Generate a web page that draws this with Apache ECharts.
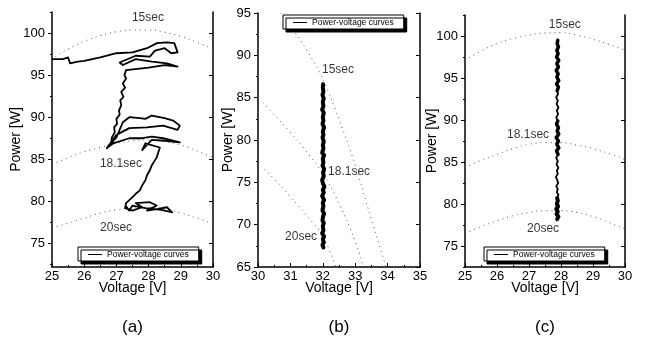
<!DOCTYPE html>
<html>
<head>
<meta charset="utf-8">
<script src="https://cdn.jsdelivr.net/npm/echarts@6/dist/echarts.min.js"></script>
<style>
  html, body { margin: 0; padding: 0; background: #fff; }
  #chart { width: 646px; height: 345px; }
</style>
</head>
<body>
<div id="chart"></div>
<script>
// ---- data ----
const powerTicksA = [75, 80, 85, 90, 95, 100];
const powerTicksB = [65, 70, 75, 80, 85, 90, 95];
const minorTicksA = [72.5, 75, 77.5, 80, 82.5, 85, 87.5, 90, 92.5, 95, 97.5, 100, 102.5];
const minorTicksB = [65, 67.5, 70, 72.5, 75, 77.5, 80, 82.5, 85, 87.5, 90, 92.5, 95];

// (a) measured trajectory
const trackA = [
  [25.0, 96.9], [25.34, 96.9], [25.5, 97.1], [25.56, 96.4], [25.62, 96.3], [25.8, 96.6],
  [26.0, 96.7], [26.5, 97.1], [27.0, 97.6], [27.5, 97.7], [27.95, 98.2], [28.26, 98.8],
  [28.57, 98.9], [28.8, 98.8], [28.9, 97.7], [28.7, 97.6], [28.5, 98.2], [28.2, 97.9],
  [28.04, 97.2], [27.6, 97.3], [27.1, 96.5], [27.2, 96.2], [27.6, 96.9], [28.1, 96.6],
  [28.57, 96.4], [28.9, 96.0], [28.5, 96.2], [28.0, 95.9], [27.3, 95.6], [27.25, 95.0],
  [27.3, 94.6], [27.2, 94.0], [27.27, 93.5], [27.15, 93.0], [27.22, 92.4], [27.12, 92.0],
  [27.15, 91.4], [27.08, 90.8], [27.1, 90.3], [27.0, 89.8], [27.02, 89.2], [26.93, 88.8],
  [26.95, 88.2], [26.86, 87.6], [26.84, 87.0], [26.75, 86.6], [26.7, 86.3], [27.0, 87.6],
  [27.2, 89.4], [27.4, 90.0], [27.73, 89.9], [27.9, 89.8], [28.1, 90.2], [28.5, 89.9],
  [28.76, 89.6], [28.97, 89.0], [28.9, 88.5], [28.45, 89.0], [27.95, 88.8], [27.4, 88.7],
  [27.0, 87.9], [26.7, 86.3], [26.9, 86.9], [27.4, 87.5], [27.8, 87.5], [28.1, 87.7],
  [28.45, 87.5], [28.97, 87.0], [28.5, 87.2], [28.1, 87.3], [27.95, 86.7], [27.8, 86.1],
  [27.9, 86.9], [28.35, 86.4], [28.25, 85.2], [28.2, 84.9], [28.1, 84.3], [28.04, 83.7],
  [27.95, 83.1], [27.9, 82.5], [27.8, 81.9], [27.73, 81.3], [27.6, 80.9], [27.5, 80.5],
  [27.3, 79.8], [27.27, 79.2], [27.5, 78.9], [27.8, 79.3], [27.6, 79.8], [28.04, 79.9],
  [28.25, 79.5], [27.95, 78.9], [28.3, 79.1], [28.57, 79.3], [28.73, 78.7], [28.4, 79.0],
  [27.9, 79.2], [27.5, 79.5], [27.4, 78.9], [27.3, 79.4]
];
const curveA15 = [[25.1, 97.2], [25.5, 98.1], [26, 99.0], [26.5, 99.7], [27, 100.15], [27.5, 100.35], [28, 100.35], [28.5, 100.1], [29, 99.6], [29.5, 98.9], [30, 98.1]];
const curveA18 = [[25, 84.4], [25.5, 85.2], [26, 85.9], [26.5, 86.4], [27, 86.9], [27.5, 87.2], [28, 87.3], [28.5, 87.1], [29, 86.7], [29.5, 86.0], [30, 85.2]];
const curveA20 = [[25, 76.8], [25.5, 77.4], [26, 78.0], [26.5, 78.6], [27, 79.0], [27.5, 79.2], [28, 79.3], [28.5, 79.1], [29, 78.6], [29.5, 78.0], [30, 77.3]];
const labelsA = [[27.98, 101.8, '15sec'], [27.14, 84.5, '18.1sec'], [26.99, 76.9, '20sec']];

// (b) measured trajectory
const trackB = [
  [32.02, 67.3], [31.99, 67.6], [32.03, 67.9], [32.0, 68.3], [32.04, 68.6], [31.98, 69.0],
  [32.02, 69.3], [32.0, 69.8], [32.03, 70.2], [31.99, 70.5], [32.01, 71.0], [32.04, 71.3],
  [31.99, 71.7], [32.02, 72.2], [32.0, 72.6], [32.04, 72.9], [31.98, 73.4], [32.03, 73.8],
  [32.0, 74.1], [32.05, 74.5], [32.0, 74.9], [31.98, 75.3], [32.03, 75.7], [32.01, 76.1],
  [32.04, 76.6], [31.99, 77.0], [32.02, 77.3], [32.0, 77.8], [32.04, 78.2], [31.98, 78.5],
  [32.02, 79.0], [32.0, 79.4], [32.03, 79.8], [31.99, 80.3], [32.02, 80.6], [32.0, 81.0],
  [32.04, 81.5], [31.99, 81.9], [32.02, 82.3], [32.0, 82.7], [32.03, 83.2], [31.98, 83.6],
  [32.02, 84.0], [32.0, 84.5], [32.03, 84.9], [31.99, 85.3], [32.02, 85.7], [32.0, 86.2],
  [32.01, 86.6]
];
const curveB15 = [[30.7, 95], [31.2, 92.4], [31.6, 90.0], [32, 87.2], [32.5, 82.4], [33, 77.0], [33.5, 70.6], [33.95, 65]];
const curveB18 = [[30.15, 84.4], [30.5, 83.0], [31, 80.9], [31.5, 78.6], [32, 76.0], [32.5, 72.5], [33, 68.0], [33.25, 65]];
const curveB20 = [[30.2, 76.5], [30.5, 75.4], [31, 73.3], [31.5, 71.1], [32, 68.6], [32.4, 65]];
const labelsB = [[32.47, 88.35, '15sec'], [32.81, 76.25, '18.1sec'], [31.33, 68.55, '20sec']];

// (c) measured trajectory, split where the trace gets thicker / thinner
const trackC1 = [[27.88, 78.2], [27.92, 78.5], [27.86, 78.8], [27.9, 79.1], [27.85, 79.4], [27.91, 79.7], [27.87, 80.0], [27.9, 80.4], [27.88, 80.7]];
const trackC2 = [[27.88, 80.7], [27.92, 81.1], [27.87, 81.4], [27.9, 81.8], [27.85, 82.1], [27.91, 82.5], [27.88, 82.9], [27.84, 83.2], [27.9, 83.6], [27.87, 84.0], [27.92, 84.3], [27.86, 84.7], [27.9, 85.1], [27.85, 85.5], [27.91, 85.9]];
const trackC3 = [[27.91, 85.9], [27.86, 86.3], [27.93, 86.7], [27.87, 87.1], [27.92, 87.5], [27.85, 87.9], [27.93, 88.3], [27.88, 88.7], [27.92, 89.1], [27.86, 89.5], [27.9, 89.9]];
const trackC4 = [[27.9, 89.9], [27.85, 90.3], [27.91, 90.7], [27.87, 91.1], [27.92, 91.5], [27.86, 91.9], [27.9, 92.3], [27.85, 92.7], [27.91, 93.1], [27.88, 93.5]];
const trackC5 = [[27.88, 93.5], [27.92, 93.9], [27.86, 94.3], [27.93, 94.7], [27.87, 95.1], [27.91, 95.5], [27.85, 95.9], [27.92, 96.3], [27.87, 96.7], [27.93, 97.1], [27.86, 97.5], [27.91, 97.9], [27.87, 98.3], [27.92, 98.7], [27.88, 99.1], [27.9, 99.5]];
const curveC15 = [[25, 97.1], [25.5, 98.2], [26, 99.1], [26.5, 99.7], [27, 100.1], [27.5, 100.35], [28, 100.4], [28.5, 100.1], [29, 99.6], [29.5, 99.0], [30, 98.3]];
const curveC18 = [[25, 84.3], [25.5, 85.2], [26, 85.9], [26.5, 86.6], [27, 87.1], [27.5, 87.3], [28, 87.3], [28.5, 87.0], [29, 86.6], [29.5, 86.0], [30, 85.3]];
const curveC20 = [[25, 76.5], [25.5, 77.3], [26, 78.0], [26.5, 78.6], [27, 79.0], [27.5, 79.2], [28, 79.2], [28.5, 79.0], [29, 78.5], [29.5, 77.8], [30, 77.0]];
const labelsC = [[28.12, 101.3, '15sec'], [26.97, 88.2, '18.1sec'], [27.44, 77.1, '20sec']];

const panelNames = ['(a)', '(b)', '(c)'];
const legendName = 'Power-voltage curves';

// ---- styling ----
const FONT = 'Liberation Sans, Arial, sans-serif';
const grids = [
  {left: 52, top: 12, width: 161, height: 255},
  {left: 258, top: 13, width: 162, height: 254},
  {left: 465, top: 15, width: 160, height: 252},
];

function xAxis(gi, min, max) {
  return {
    gridIndex: gi, type: 'value', min: min, max: max, interval: 1,
    axisLine: {onZero: false, lineStyle: {color: '#000', width: 1.5}},
    axisTick: {inside: true, length: 4, lineStyle: {color: '#000'}},
    minorTick: {show: true, splitNumber: 2, length: 2, lineStyle: {color: '#000'}},
    splitLine: {show: false},
    axisLabel: {color: '#000', fontSize: 13, fontFamily: FONT, margin: 3},
    name: 'Voltage [V]', nameLocation: 'middle', nameGap: 14, nameMoveOverlap: false,
    nameTextStyle: {color: '#000', fontSize: 14, fontFamily: FONT},
  };
}

function yAxes(gi, min, max, major, minor, gap) {
  return [
    {
      gridIndex: gi, type: 'value', position: 'left', min: min, max: max,
      axisLine: {onZero: false, lineStyle: {color: '#000', width: 1.5}},
      axisTick: {customValues: major, length: 4, lineStyle: {color: '#000'}},
      splitLine: {show: false},
      axisLabel: {customValues: major, color: '#000', fontSize: 13, fontFamily: FONT, margin: 7},
      name: 'Power [W]', nameLocation: 'middle', nameGap: gap, nameMoveOverlap: false,
      nameTextStyle: {color: '#000', fontSize: 14, fontFamily: FONT},
    },
    {
      gridIndex: gi, type: 'value', position: 'left', min: min, max: max,
      axisLine: {show: false},
      axisTick: {customValues: minor, length: 2, lineStyle: {color: '#000'}},
      axisLabel: {show: false}, splitLine: {show: false},
    },
    {
      gridIndex: gi, type: 'value', position: 'right', min: min, max: max,
      axisLine: {onZero: false, lineStyle: {color: '#000', width: 1.5}},
      axisTick: {customValues: major, inside: true, length: 4, lineStyle: {color: '#000'}},
      axisLabel: {show: false}, splitLine: {show: false},
    },
  ];
}

function track(gi, data, width) {
  return {
    name: legendName, type: 'line', xAxisIndex: gi, yAxisIndex: gi * 3,
    data: data, symbol: 'none', z: 3,
    lineStyle: {color: '#000', width: width, join: 'round', cap: 'round'},
    itemStyle: {color: '#000'},
  };
}

function curve(gi, data) {
  return {
    type: 'line', xAxisIndex: gi, yAxisIndex: gi * 3, data: data,
    symbol: 'none', smooth: true, silent: true, z: 1,
    lineStyle: {color: '#555', width: 1, type: [1, 4]},
  };
}

function tags(gi, data) {
  return {
    type: 'scatter', xAxisIndex: gi, yAxisIndex: gi * 3, symbolSize: 0, z: 4,
    data: data.map(d => ({value: [d[0], d[1]], name: d[2]})),
    label: {show: true, position: 'inside', formatter: '{b}', color: '#000', fontSize: 12, fontFamily: FONT},
  };
}

function legend(left, top) {
  return {
    left: left, top: top, data: [{name: legendName, icon: 'rect'}],
    itemWidth: 14, itemHeight: 1, itemGap: 4,
    padding: [3, 10, 2, 10],
    backgroundColor: '#fff', borderColor: '#000', borderWidth: 1,
    shadowColor: '#000', shadowBlur: 0, shadowOffsetX: 3, shadowOffsetY: 3,
    textStyle: {color: '#000', fontSize: 8.5, fontFamily: FONT},
    selectedMode: false,
  };
}

const chart = echarts.init(document.getElementById('chart'), null, {renderer: 'canvas'});
chart.setOption({
  animation: false,
  backgroundColor: '#fff',
  grid: grids.map(g => Object.assign({outerBoundsMode: 'none'}, g)),
  xAxis: [xAxis(0, 25, 30), xAxis(1, 30, 35), xAxis(2, 25, 30)],
  yAxis: [].concat(
    yAxes(0, 72.2, 102.5, powerTicksA, minorTicksA, 29),
    yAxes(1, 65, 95, powerTicksB, minorTicksB, 23),
    yAxes(2, 72.5, 102.5, powerTicksA, minorTicksA, 26)
  ),
  legend: [legend(78, 247), legend(283, 15), legend(484, 247)],
  series: [
    curve(0, curveA15), curve(0, curveA18), curve(0, curveA20),
    track(0, trackA, 1.8), tags(0, labelsA),
    curve(1, curveB15), curve(1, curveB18), curve(1, curveB20),
    track(1, trackB, 4), tags(1, labelsB),
    curve(2, curveC15), curve(2, curveC18), curve(2, curveC20),
    track(2, trackC1, 4), track(2, trackC2, 1.8), track(2, trackC3, 3.5),
    track(2, trackC4, 1.8), track(2, trackC5, 3.5), tags(2, labelsC),
  ],
  graphic: panelNames.map((t, i) => ({
    type: 'text', x: grids[i].left + grids[i].width / 2, y: 319,
    style: {text: t, fill: '#000', font: '17px ' + FONT, align: 'center'},
  })),
});
</script>
</body>
</html>
